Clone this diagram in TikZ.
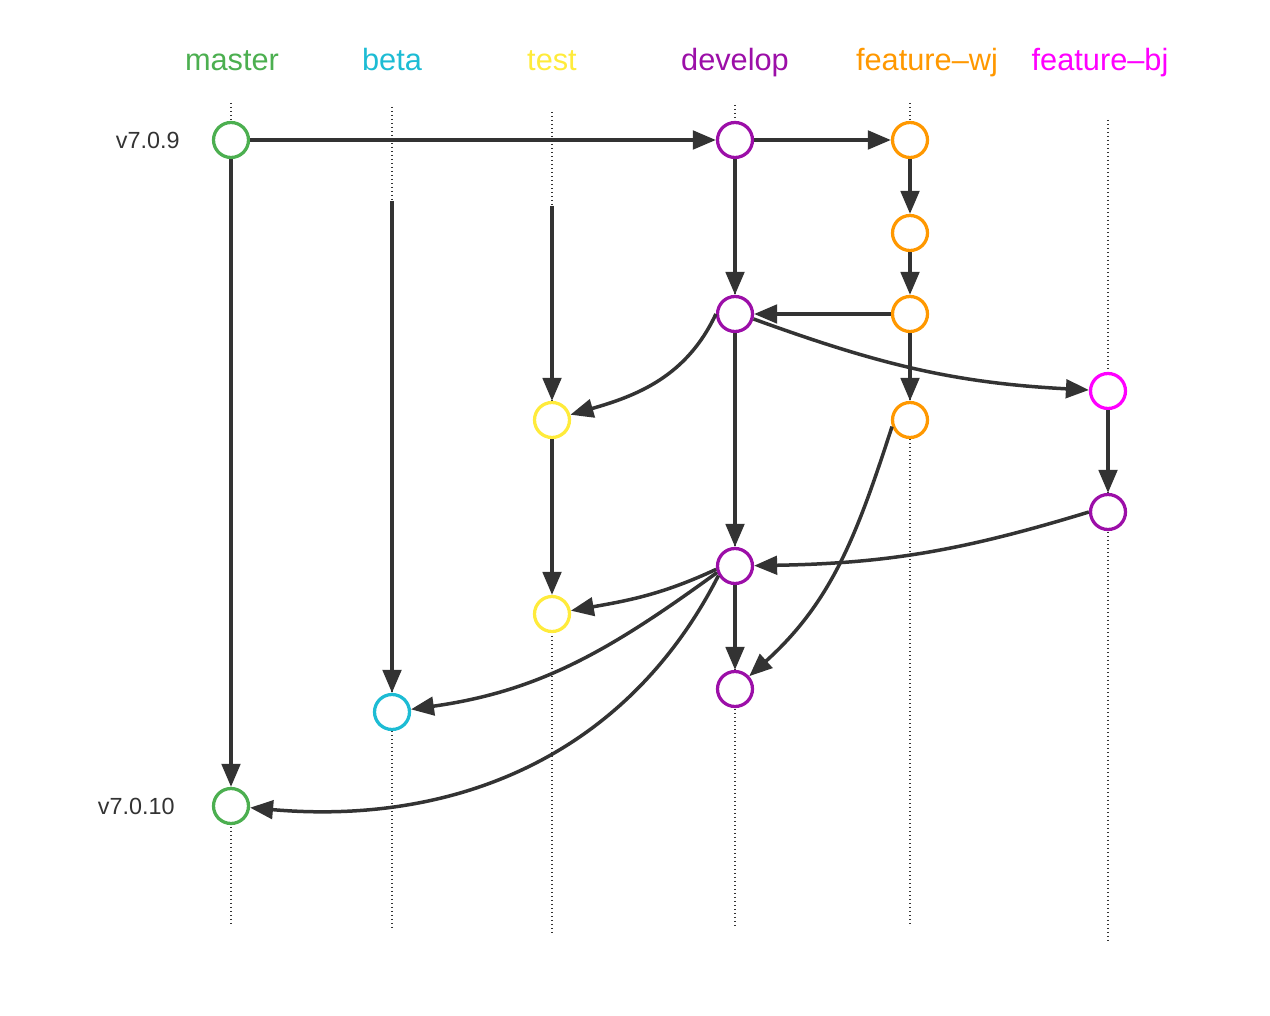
\documentclass[tikz,border=0pt]{standalone}
\usepackage{fontspec}
\setmainfont{Liberation Sans}
\usetikzlibrary{arrows.meta,positioning}
\definecolor{gmaster}{HTML}{4CAF50}
\definecolor{gbeta}{HTML}{1DBCD4}
\definecolor{gtest}{HTML}{FFEB3B}
\definecolor{gdevelop}{HTML}{9C0FA8}
\definecolor{gfeatwj}{HTML}{FF9800}
\definecolor{gfeatbj}{HTML}{FF00FF}
\definecolor{gline}{HTML}{333333}
\tikzset{
  commit/.style={circle, draw=#1, line width=0.065cm, fill=white, minimum size=0.7cm, inner sep=0pt},
  lane/.style={gline, line width=0.03cm, dash pattern=on 0.03cm off 0.05cm},
  flow/.style={gline, line width=0.07cm, -{Triangle[length=0.46cm,width=0.37cm]}},
  branch/.style={text=#1, anchor=base, font=\fontsize{17.5}{20}\selectfont},
  tag/.style={text=gline, inner sep=0pt, font=\fontsize{13.3}{16}\selectfont},
}
\begin{document}
\begin{tikzpicture}[x=0.02cm, y=-0.02cm]
      \useasboundingbox (0,0) rectangle (1270,1016);

      % lanes
      \draw[lane] (231,103) -- (231,925);
      \draw[lane] (392,107) -- (392,928);
      \draw[lane] (552,112) -- (552,933);
      \draw[lane] (735,105) -- (735,925);
      \draw[lane] (910,103) -- (910,925);
      \draw[lane] (1108,120) -- (1108,940);

      \node[branch=gmaster] at (232,71) (lmaster) {master};
      \node[branch=gbeta] at (392,71) (lbeta) {beta};
      \node[branch=gtest] at (552,71) (ltest) {test};
      \node[branch=gdevelop] at (735,71) (ldevelop) {develop};
      \node[branch=gfeatwj] at (927,71) (lfeatwj) {feature\textendash wj};
      \node[branch=gfeatbj] at (1100,71) (lfeatbj) {feature\textendash bj};

      % commits
      \node[commit=gmaster] at (231,140) (m1) {};
      \node[commit=gmaster] at (231,806) (m2) {};
      \node[commit=gbeta] at (392,712) (b1) {};
      \node[commit=gtest] at (552,420) (t1) {};
      \node[commit=gtest] at (552,614) (t2) {};
      \node[commit=gdevelop] at (735,140) (d1) {};
      \node[commit=gdevelop] at (735,314) (d2) {};
      \node[commit=gdevelop] at (735,566) (d3) {};
      \node[commit=gdevelop] at (735,689) (d4) {};
      \node[commit=gfeatwj] at (910,140) (f1) {};
      \node[commit=gfeatwj] at (910,233) (f2) {};
      \node[commit=gfeatwj] at (910,314) (f3) {};
      \node[commit=gfeatwj] at (910,420) (f4) {};
      \node[commit=gfeatbj] at (1108,391) (fb1) {};
      \node[commit=gdevelop] at (1108,512) (fb2) {};

      \node[tag, left=0.64cm of m1] (v709) {v7.0.9};
      \node[tag, left=0.74cm of m2] (v7010) {v7.0.10};

      \coordinate (bstart) at (392,201);
      \coordinate (tstart) at (552,206);

      % straight flows
      \draw[flow] (m1) -- (d1);
      \draw[flow] (d1) -- (f1);
      \draw[flow] (f1) -- (f2);
      \draw[flow] (f2) -- (f3);
      \draw[flow] (f3) -- (d2);
      \draw[flow] (f3) -- (f4);
      \draw[flow] (d1) -- (d2);
      \draw[flow] (d2) -- (d3);
      \draw[flow] (d3) -- (d4);
      \draw[flow] (fb1) -- (fb2);
      \draw[flow] (m1) -- (m2);
      \draw[flow] (bstart) -- (b1);
      \draw[flow] (tstart) -- (t1);
      \draw[flow] (t1) -- (t2);

      % merges
      \draw[flow] (d2.west) to[out=-115, in=16] (t1);
      \draw[flow] (d2.-15) to[out=-20, in=177] (fb1);
      \draw[flow] (fb2.west) to[out=197, in=1] (d3);
      \draw[flow] (d3.190) to[out=205, in=10] (t2);
      \draw[flow] (d3.200) to[out=216, in=8] (b1);
      \draw[flow] (d3.210) to[out=-117, in=-5] (m2);
      \draw[flow] (f4.200) to[out=-108, in=42] (d4);
    \end{tikzpicture}
\end{document}
